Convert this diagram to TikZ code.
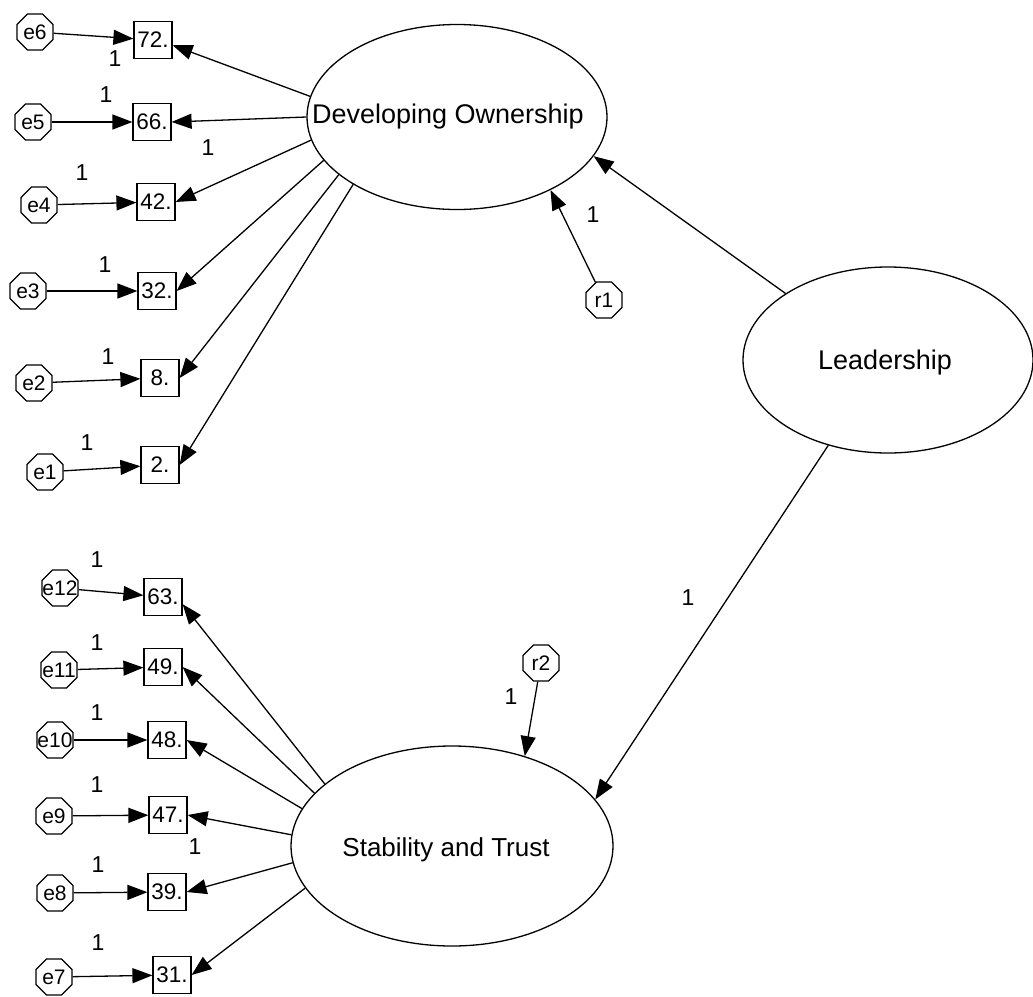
\documentclass[tikz,border=0pt]{standalone}
\usepackage{fontspec}
\setmainfont{Liberation Sans}
\usetikzlibrary{shapes.geometric, arrows.meta}
\begin{document}
\begin{tikzpicture}[x=1pt,y=-1pt,
  conn/.style={line width=1.3pt, -{Triangle[length=20pt,width=15pt]}},
  obs/.style={draw, line width=1.2pt, rectangle, minimum width=38pt, minimum height=37pt, inner sep=0pt, font=\fontsize{22.5}{25}\selectfont},
  err/.style={draw, line width=1.2pt, regular polygon, regular polygon sides=8, minimum size=39pt, inner sep=0pt, label={[font=\fontsize{21}{23}\selectfont]center:#1}},
  lat/.style={draw, line width=1.3pt, ellipse, inner sep=0pt},
  latlabel/.style={font=\fontsize{27}{30}\selectfont},
  one/.style={font=\fontsize{23}{25}\selectfont, inner sep=0pt}
]
\useasboundingbox (0,0) rectangle (1033,996);

% latent variables
\node[lat, minimum width=300pt, minimum height=185pt,
  label={[latlabel, xshift=-9pt]center:Developing Ownership}] (DO) at (457,117) {};
\node[lat, minimum width=290pt, minimum height=186pt,
  label={[latlabel, xshift=-3pt, yshift=-3pt]center:Leadership}] (L) at (888,360) {};
\node[lat, minimum width=322pt, minimum height=200pt,
  label={[font=\fontsize{26}{29}\selectfont, xshift=-6pt, yshift=-4pt]center:Stability and Trust}] (ST) at (452,846) {};

% observed variables
\node[obs] (b72) at (153,40) {72.};
\node[obs] (b66) at (152,122) {66.};
\node[obs] (b42) at (156,202) {42.};
\node[obs] (b32) at (157,291) {32.};
\node[obs] (b8)  at (160,378) {8.};
\node[obs] (b2)  at (160,465) {2.};
\node[obs] (b63) at (163,597) {63.};
\node[obs] (b49) at (163,667) {49.};
\node[obs] (b48) at (167,740) {48.};
\node[obs] (b47) at (168,815) {47.};
\node[obs] (b39) at (167,892) {39.};
\node[obs] (b31) at (172,975) {31.};

% error terms
\node[err=e6] (e6) at (35,32) {};
\node[err=e5] (e5) at (33,122) {};
\node[err=e4] (e4) at (39,205) {};
\node[err=e3] (e3) at (28,291) {};
\node[err=e2] (e2) at (34,383) {};
\node[err=e1] (e1) at (45,472) {};
\node[err=e12] (e12) at (60,588) {};
\node[err=e11] (e11) at (59,670) {};
\node[err=e10] (e10) at (55,740) {};
\node[err=e9] (e9) at (54,816) {};
\node[err=e8] (e8) at (55,893) {};
\node[err=e7] (e7) at (54,977) {};
\node[err=r1] (r1) at (604,300) {};
\node[err=r2] (r2) at (541,663) {};

% error arrows
\draw[conn] (e6) -- (b72);
\draw[conn] (e5) -- (b66);
\draw[conn] (e4) -- (b42);
\draw[conn] (e3) -- (b32);
\draw[conn] (e2) -- (b8);
\draw[conn] (e1) -- (b2);
\draw[conn] (e12) -- (b63);
\draw[conn] (e11) -- (b49);
\draw[conn] (e10) -- (b48);
\draw[conn] (e9) -- (b47);
\draw[conn] (e8) -- (b39);
\draw[conn] (e7) -- (b31);

% loadings
\draw[conn] (DO.172.6) -- (b72.-15);
\draw[conn] (DO.180.4) -- (b66.east);
\draw[conn] (DO.189) -- (b42.east);
\draw[conn] (DO.198.6) -- (b32.east);
\draw[conn] (DO.206.6) -- (b8.east);
\draw[conn] (DO.213.7) -- (b2.east);
\draw[conn] (ST.154) -- (b63.-20);
\draw[conn] (ST.159.9) -- (b49.east);
\draw[conn] (ST.166.5) -- (b48.east);
\draw[conn] (ST.176.8) -- (b47.east);
\draw[conn] (ST.186.4) -- (b39.east);
\draw[conn] (ST.196.5) -- (b31.east);

% structural paths
\draw[conn] (L.147) -- (DO.-16);
\draw[conn] (L.235.4) -- (ST.18.6);
\draw[conn] (r1) -- (DO.-38);
\draw[conn] (r2) -- (ST.51.4);

% regression weight labels
\node[one] (n1)  at (115,59) {1};
\node[one] (n2)  at (106,95) {1};
\node[one] (n3)  at (208,148) {1};
\node[one] (n4)  at (82,173) {1};
\node[one] (n5)  at (105,265) {1};
\node[one] (n6)  at (108,357) {1};
\node[one] (n7)  at (87,443) {1};
\node[one] (n8)  at (97,560) {1};
\node[one] (n9)  at (97,643) {1};
\node[one] (n10) at (97,713) {1};
\node[one] (n11) at (97,785) {1};
\node[one] (n12) at (195,847) {1};
\node[one] (n13) at (98,865) {1};
\node[one] (n14) at (98,943) {1};
\node[one] (n15) at (593,215) {1};
\node[one] (n16) at (688,598) {1};
\node[one] (n17) at (511,697) {1};
\end{tikzpicture}
\end{document}
